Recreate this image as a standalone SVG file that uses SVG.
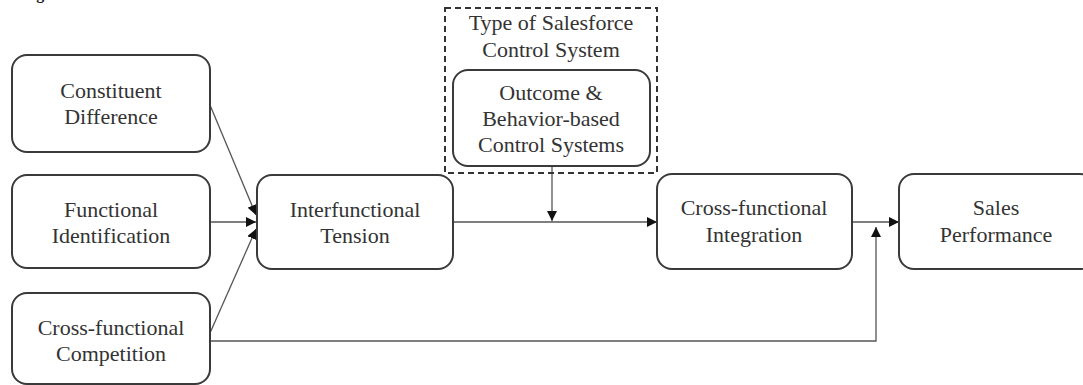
<svg xmlns="http://www.w3.org/2000/svg" width="1083" height="385" viewBox="0 0 1083 385">
<style>
.box{fill:#fff;stroke:#3a3a3a;stroke-width:2}
.t{font-family:'Liberation Serif','Times New Roman',Times,serif;font-size:22px;fill:#333;text-anchor:middle}
.ln{fill:none;stroke:#555;stroke-width:1.3}
.dash{fill:none;stroke:#333;stroke-width:2;stroke-dasharray:6,4}
</style>
<defs>
<marker id="ah" viewBox="0 0 10 10" refX="10" refY="5" markerWidth="10" markerHeight="10" markerUnits="userSpaceOnUse" orient="auto">
<path d="M0,0 L10,5 L0,10 Z" fill="#111"/>
</marker>
</defs>
<rect width="1083" height="385" fill="#fff"/>
<text x="22" y="-1" font-family="Liberation Serif, serif" font-size="16" font-weight="bold" fill="#222">Figure 1</text>

<g id="connectors">
<line class="ln" x1="210" y1="105" x2="256" y2="215" marker-end="url(#ah)"/>
<line class="ln" x1="210" y1="222" x2="256" y2="222" marker-end="url(#ah)"/>
<line class="ln" x1="210" y1="333" x2="256" y2="229" marker-end="url(#ah)"/>
<line class="ln" x1="453" y1="222" x2="657" y2="222" marker-end="url(#ah)"/>
<line class="ln" x1="552" y1="166" x2="552" y2="221" marker-end="url(#ah)"/>
<line class="ln" x1="852" y1="222" x2="899" y2="222" marker-end="url(#ah)"/>
<polyline class="ln" points="210,341 876,341 876,227" marker-end="url(#ah)"/>
</g>

<g id="control-system-group">
<rect class="dash" x="445" y="8" width="212" height="165"/>
<text class="t" x="551" y="30">Type of Salesforce</text>
<text class="t" x="551" y="57">Control System</text>
</g>

<g id="outcome-behavior">
<rect class="box" x="453" y="70" width="197" height="96" rx="15"/>
<text class="t" x="551" y="100">Outcome &amp;</text>
<text class="t" x="551" y="126">Behavior-based</text>
<text class="t" x="551" y="152">Control Systems</text>
</g>

<g id="constituent-difference">
<rect class="box" x="12" y="55" width="198" height="97" rx="15"/>
<text class="t" x="111" y="98">Constituent</text>
<text class="t" x="111" y="124">Difference</text>
</g>

<g id="functional-identification">
<rect class="box" x="12" y="175" width="198" height="93" rx="15"/>
<text class="t" x="111" y="217">Functional</text>
<text class="t" x="111" y="243">Identification</text>
</g>

<g id="cross-functional-competition">
<rect class="box" x="12" y="293" width="198" height="91" rx="15"/>
<text class="t" x="111" y="335">Cross-functional</text>
<text class="t" x="111" y="361">Competition</text>
</g>

<g id="interfunctional-tension">
<rect class="box" x="257" y="175" width="196" height="94" rx="15"/>
<text class="t" x="355" y="217">Interfunctional</text>
<text class="t" x="355" y="243">Tension</text>
</g>

<g id="cross-functional-integration">
<rect class="box" x="657" y="174" width="195" height="95" rx="15"/>
<text class="t" x="754" y="215">Cross-functional</text>
<text class="t" x="754" y="242">Integration</text>
</g>

<g id="sales-performance">
<rect class="box" x="899" y="174" width="196" height="95" rx="15"/>
<text class="t" x="996" y="215">Sales</text>
<text class="t" x="996" y="242">Performance</text>
</g>
</svg>
